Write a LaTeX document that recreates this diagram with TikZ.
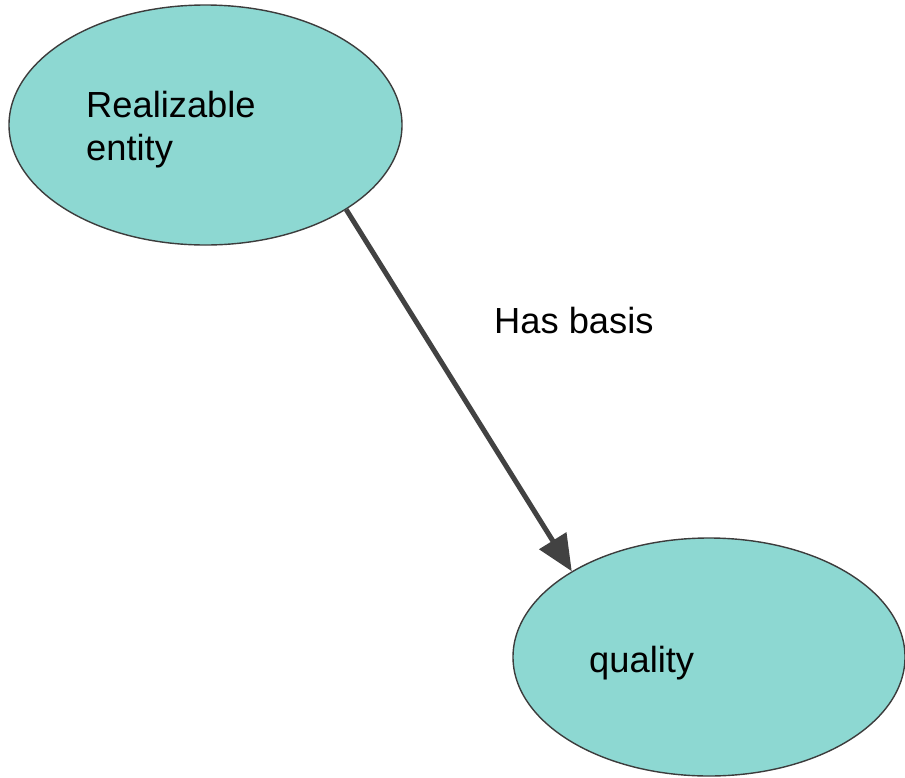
\documentclass[tikz,border=0pt]{standalone}
\usepackage{fontspec}
\setmainfont{Liberation Sans}
\usetikzlibrary{shapes.geometric,arrows.meta}
\definecolor{tealfill}{HTML}{8DD8D2}
\definecolor{edgegray}{HTML}{424242}
\definecolor{outline}{HTML}{3C3C3C}
\tikzset{
  blob/.style={ellipse, draw=outline, line width=1.4pt, fill=tealfill, inner sep=0pt},
  lbl/.style={anchor=base west, inner sep=0pt, font=\fontsize{36.3}{43}\selectfont},
  rel/.style={draw=edgegray, line width=5pt, -{Triangle[length=36pt,width=31pt]}}
}
\begin{document}
\begin{tikzpicture}[x=1pt,y=-1pt]
\useasboundingbox (0,0) rectangle (905,777);
\node[blob, minimum width=393pt, minimum height=240pt] (e1) at (205.5,125) {};
\node[blob, minimum width=392pt, minimum height=238pt] (e2) at (709,657) {};
\node[lbl] (t1) at (86,117) {Realizable};
\node[lbl] (t2) at (86,160) {entity};
\node[lbl] (t3) at (589,672) {quality};
\node[lbl] (t4) at (494,333) {Has basis};
\draw[rel] (e1.-31.6) -- (e2.148.5);
\end{tikzpicture}
\end{document}
